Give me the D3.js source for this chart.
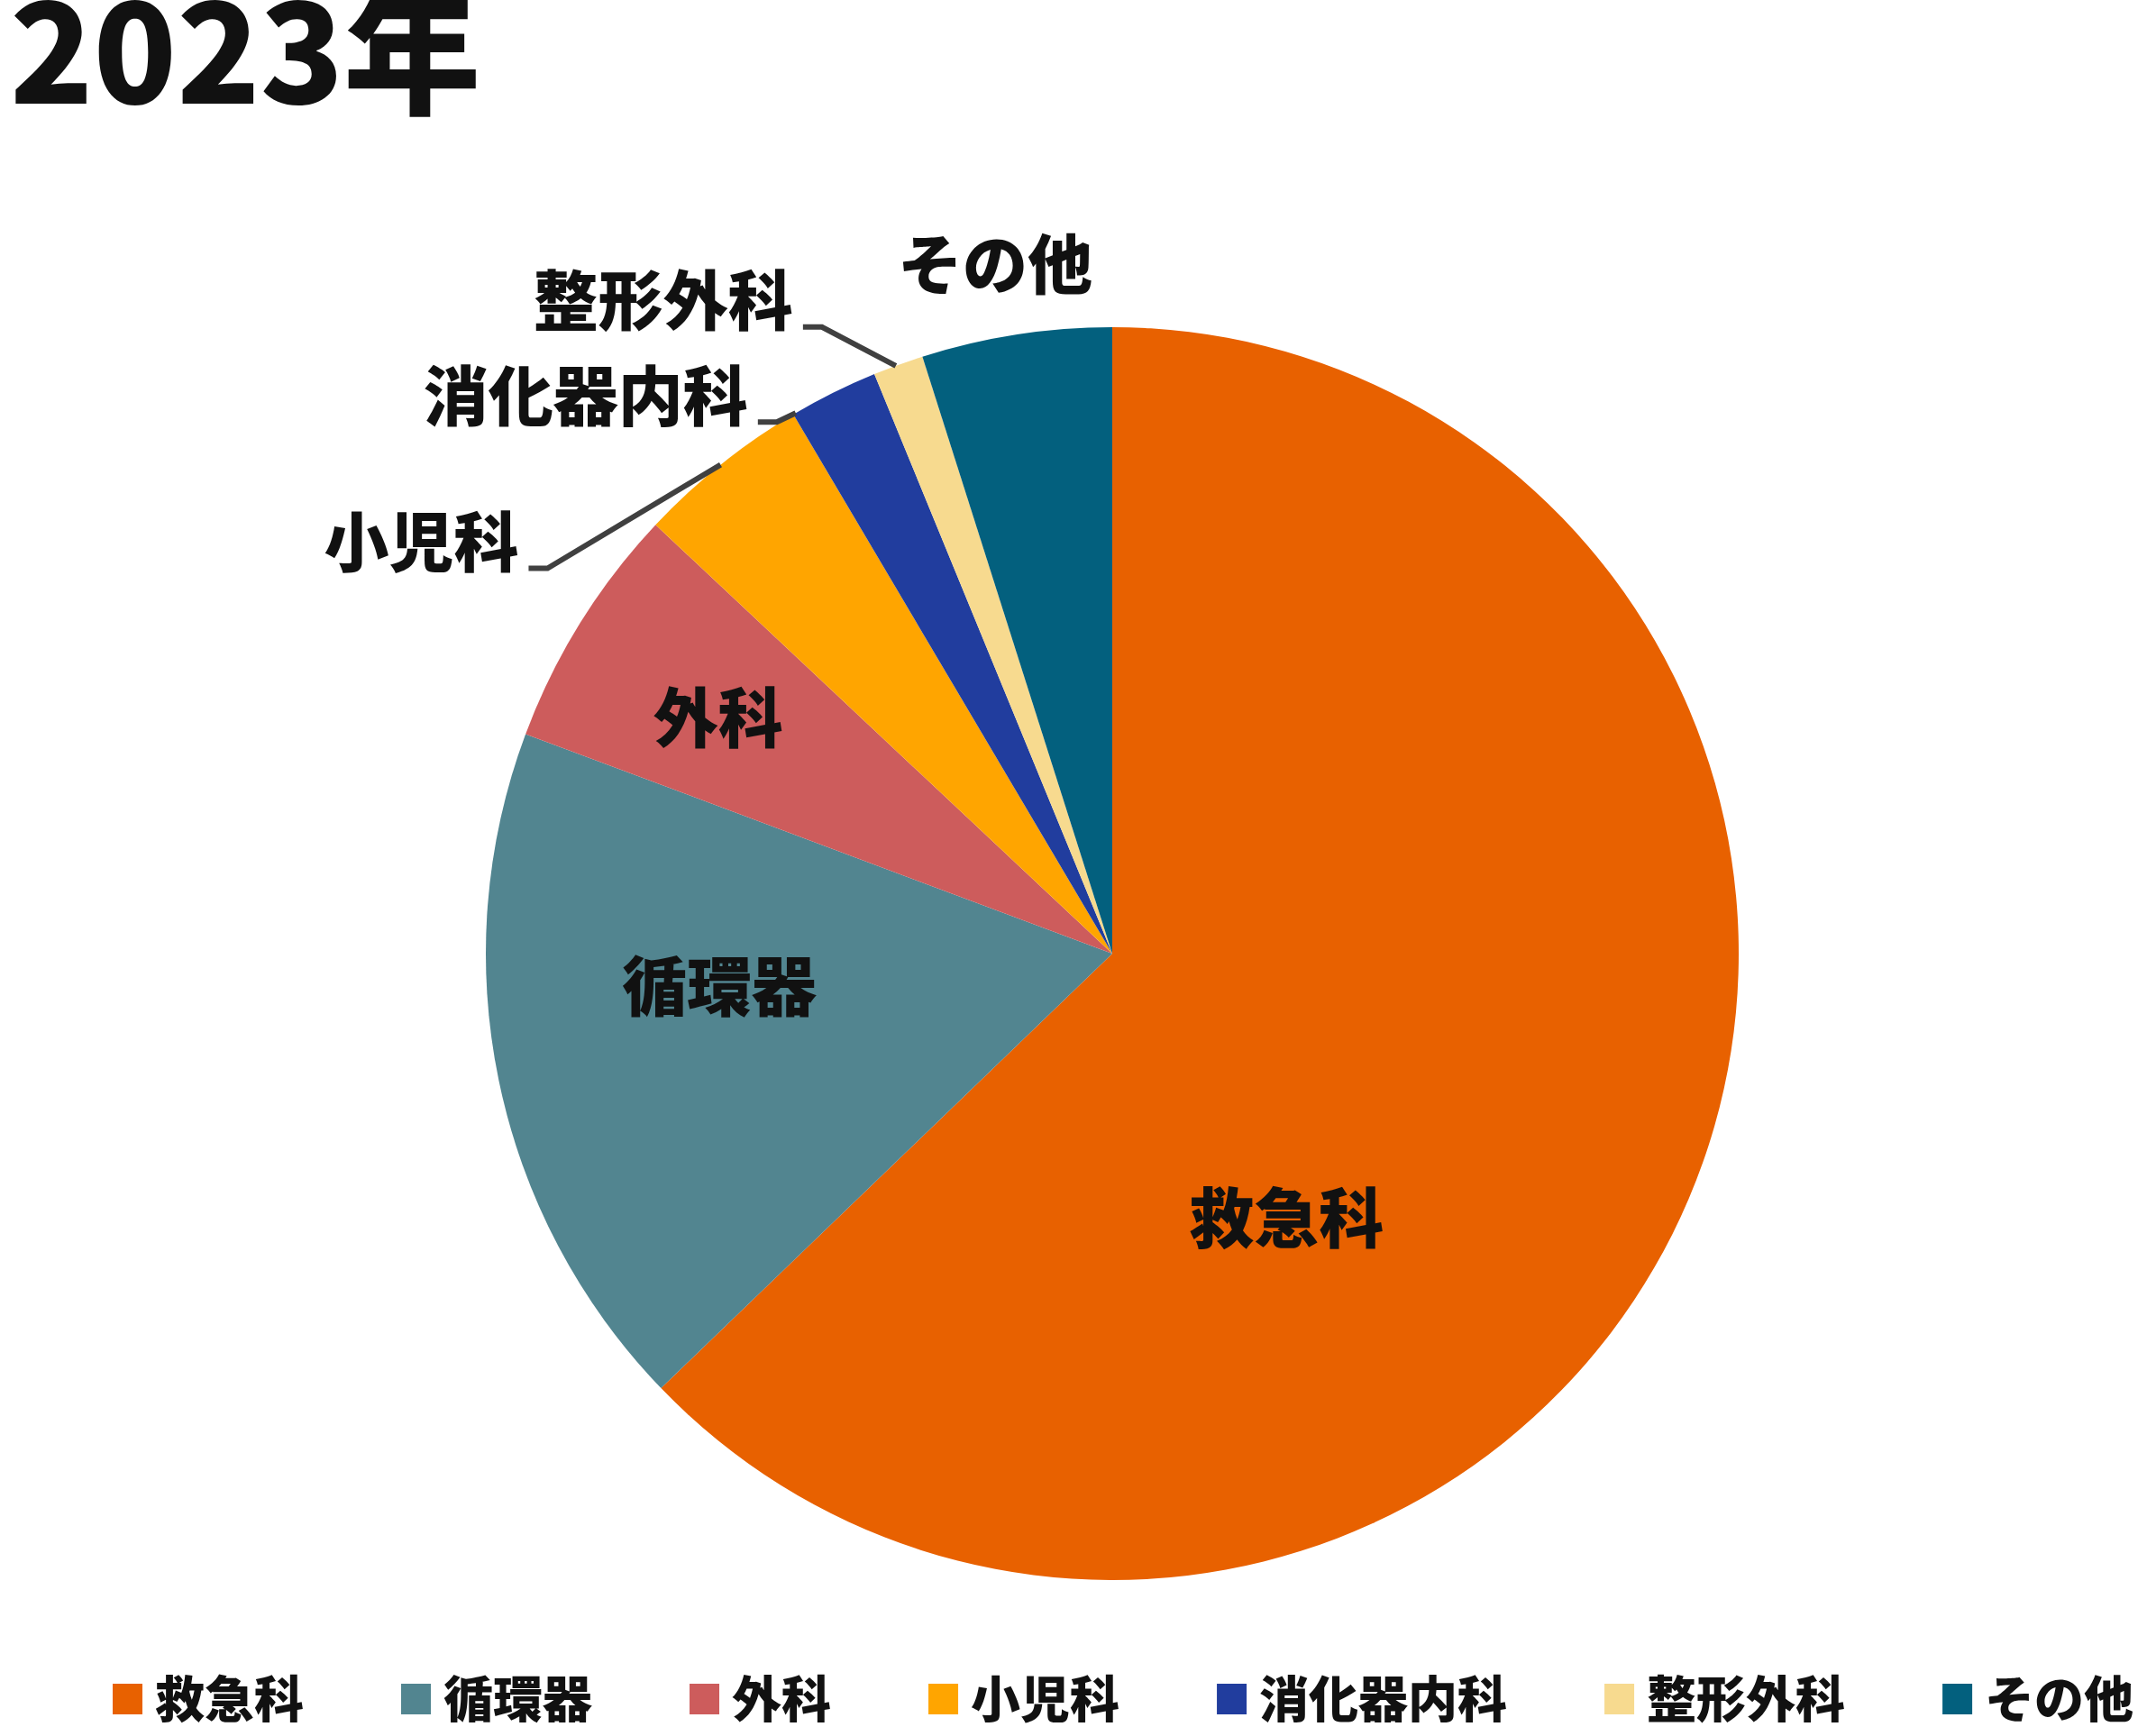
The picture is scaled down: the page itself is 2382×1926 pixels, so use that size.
<!DOCTYPE html>
<html>
<head>
<meta charset="utf-8">
<script src="https://cdn.jsdelivr.net/npm/d3@7"></script>
<style>
  body { margin: 0; background: #fff; }
  text { font-family: "Noto Sans CJK JP", "Noto Sans", sans-serif; font-weight: 900; fill: #111; }
</style>
</head>
<body>
<div id="chart"></div>
<script>
// data
const title = "2023年";
const categories = ["救急科", "循環器", "外科", "小児科", "消化器内科", "整形外科", "その他"];
const shares = [62.8, 17.9, 6.3, 4.5, 2.3, 1.3, 4.9];
const colors = ["#E86100", "#528590", "#CD5C5C", "#FFA500", "#213D9E", "#F7DA8F", "#03607E"];

// label placement (Excel-like best fit)
const labelLayout = {
    "救急科": { type: "in", at: 0.65, r: 0.51 },
    "循環器": { type: "in", at: 0.60, r: 0.63 },
    "外科": { type: "in", at: 0.44, r: 0.73 },
    "小児科": { type: "leader", at: 0.5, dx: -192, dy: 115 },
    "消化器内科": { type: "leader", at: 0.03, dx: -21, dy: 10 },
    "整形外科": { type: "leader", at: 0.45, dx: -82, dy: -43 },
    "その他": { type: "out", at: 0.45, r: 1.11 }
};

const width = 2382;
const height = 1926;
const cx = 1234;
const cy = 1058;
const radius = 695;
const labelSize = 72;

const svg = d3.select("#chart")
    .append("svg")
    .attr("width", width)
    .attr("height", height);

svg.append("text")
    .attr("x", 11)
    .attr("y", 115)
    .attr("font-size", "152px")
    .attr("font-weight", 700)
    .text(title);

const data = categories.map((c, i) => ({ name: c, value: shares[i], color: colors[i] }));

const pie = d3.pie()
    .value(d => d.value)
    .sort(null);

const arc = d3.arc()
    .innerRadius(0)
    .outerRadius(radius);

const arcs = pie(data);

const g = svg.append("g")
    .attr("transform", "translate(" + cx + "," + cy + ")");

g.selectAll("path")
    .data(arcs)
    .enter()
    .append("path")
    .attr("d", arc)
    .attr("fill", d => d.data.color);

// point on a slice at fraction `at` of its sweep, distance r
function pointAt(d, at, r) {
    const a = d.startAngle + (d.endAngle - d.startAngle) * at;
    return [r * Math.sin(a), -r * Math.cos(a)];
}

arcs.forEach(d => {
    const lay = labelLayout[d.data.name];
    if (lay.type === "in" || lay.type === "out") {
        const [x, y] = pointAt(d, lay.at, radius * lay.r);
        g.append("text")
            .attr("x", x)
            .attr("y", y - 9)
            .attr("text-anchor", "middle")
            .attr("dominant-baseline", "central")
            .attr("font-size", labelSize + "px")
            .text(d.data.name);
    } else {
        const p = pointAt(d, lay.at, radius);
        const e = [p[0] + lay.dx, p[1] + lay.dy];
        const h = [e[0] - 21, e[1]];
        g.append("path")
            .attr("d", d3.line()([p, e, h]))
            .attr("fill", "none")
            .attr("stroke", "#404040")
            .attr("stroke-width", 6);
        g.append("text")
            .attr("x", h[0] - 11)
            .attr("y", h[1] - 34)
            .attr("text-anchor", "end")
            .attr("dominant-baseline", "central")
            .attr("font-size", labelSize + "px")
            .text(d.data.name);
    }
});

// legend
const legend = svg.append("g")
    .attr("transform", "translate(125,1885)");
let lx = 0;
data.forEach(d => {
    const item = legend.append("g").attr("transform", "translate(" + lx + ",0)");
    item.append("rect")
        .attr("x", 0)
        .attr("y", -17)
        .attr("width", 33)
        .attr("height", 34)
        .attr("fill", d.color);
    const t = item.append("text")
        .attr("x", 47)
        .attr("y", -4)
        .attr("dominant-baseline", "central")
        .attr("font-size", "55px")
        .text(d.name);
    lx += 47 + t.node().getComputedTextLength() + 108;
});
</script>
</body>
</html>
